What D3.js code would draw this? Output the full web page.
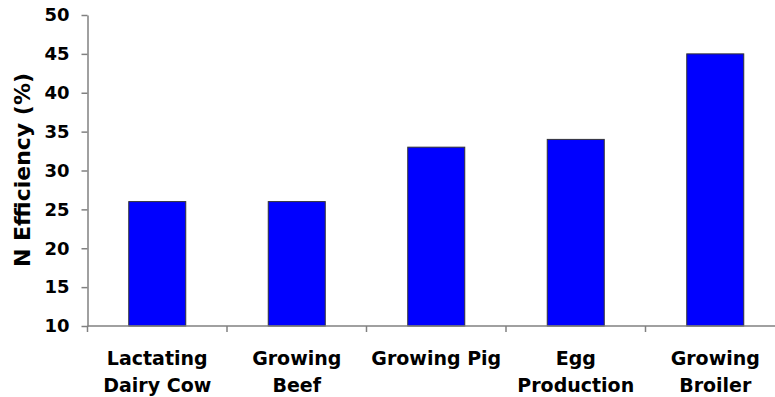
<!DOCTYPE html>
<html><head><meta charset="utf-8">
<script src="https://cdn.jsdelivr.net/npm/d3@7"></script>
<style>body{margin:0;background:#fff}svg{display:block}text{font-family:"DejaVu Sans",Verdana,sans-serif;font-weight:bold;fill:#000}</style>
</head><body><svg id="c" width="775" height="397"></svg>
<script>
const categories = [["Lactating","Dairy Cow"],["Growing","Beef"],["Growing Pig"],["Egg","Production"],["Growing","Broiler"]];
const values = [26, 26, 33, 34, 45];
const yTicks = [10, 15, 20, 25, 30, 35, 40, 45, 50];
const yLabel = "N Efficiency (%)";

(function(){
const svg = d3.select("#c");
const mL = 87.5, mR = 785, mT = 15, mB = 326;
const xb = d3.scaleLinear().domain([0, values.length]).range([mL, mR]);
const y = d3.scaleLinear().domain([10, 50]).range([mB, mT]);

svg.append("g").selectAll("rect").data(values).join("rect")
  .attr("x", (d,i) => xb(i + 0.5) - 28.5)
  .attr("width", 57)
  .attr("y", d => y(d))
  .attr("height", d => y(10) - y(d))
  .attr("fill", "#0000ff").attr("stroke", "#333").attr("stroke-width", 1);

const ya = svg.append("g").attr("transform", `translate(${mL},0)`)
  .call(d3.axisLeft(y).tickValues(yTicks).tickSize(6).tickPadding(12).tickSizeOuter(0));
ya.select(".domain").attr("stroke", "#808080").attr("stroke-width", 1.5);
ya.selectAll(".tick line").attr("stroke", "#808080").attr("stroke-width", 1.5);
ya.selectAll(".tick text").attr("font-size", 18).attr("font-family", "DejaVu Sans").attr("font-weight", "bold").attr("fill", "#000");

const xa = svg.append("g").attr("transform", `translate(0,${mB})`);
xa.append("line").attr("x1", mL).attr("x2", mR).attr("stroke", "#808080").attr("stroke-width", 1.5);
xa.selectAll("line.t").data(d3.range(values.length + 1)).join("line").attr("class","t")
  .attr("x1", d => xb(d)).attr("x2", d => xb(d)).attr("y1", 0).attr("y2", 6)
  .attr("stroke", "#808080").attr("stroke-width", 1.5);

categories.forEach((lines, i) => {
  const t = svg.append("text").attr("text-anchor", "middle").attr("font-size", 19)
    .attr("x", xb(i + 0.5)).attr("y", 365);
  lines.forEach((l, j) => t.append("tspan").attr("x", xb(i + 0.5)).attr("dy", j ? 27 : 0).text(l));
});

svg.append("text").attr("text-anchor", "middle").attr("font-size", 22)
  .attr("transform", "translate(29.5,170) rotate(-90)").text(yLabel);
})();
</script></body></html>
